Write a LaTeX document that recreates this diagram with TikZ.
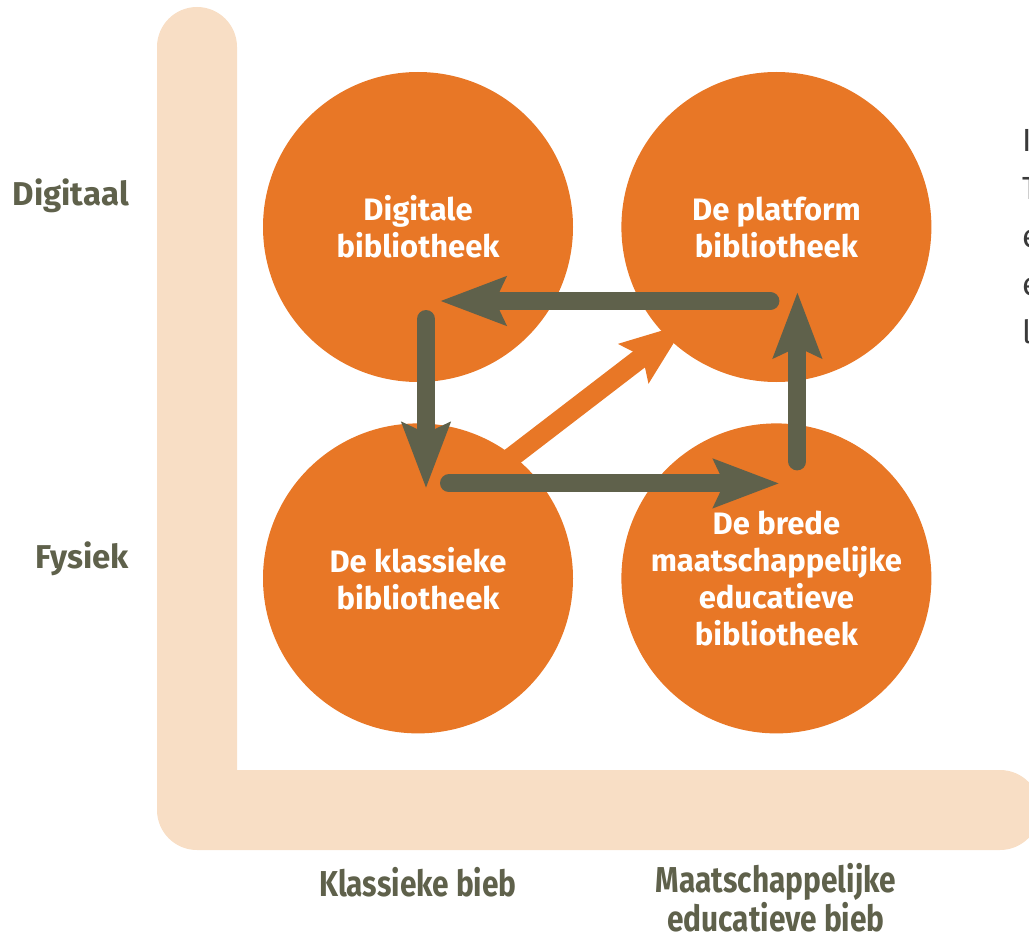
\documentclass[tikz,border=0pt]{standalone}
\usepackage{fontspec}
\setmainfont{Fira Sans}
\newfontfamily\condfont[FakeStretch=0.83]{Fira Sans}
\usepackage{tikz}
\usepackage{xcolor}
\usetikzlibrary{
    arrows.meta,
    positioning,
    calc
}

\definecolor{bieborange}{HTML}{E87726}
\definecolor{biebband}{HTML}{F8DEC5}
\definecolor{biebgrey}{HTML}{5F614B}
\definecolor{biebtext}{HTML}{3A3A3A}

\tikzset{
    lib/.style={circle, fill=bieborange, minimum size=310pt, inner sep=0pt,
        align=center, text=white, font=\fontsize{31}{37}\selectfont\bfseries},
    axislabel/.style={text=biebgrey, inner sep=0pt, font=\fontsize{33}{37}\selectfont\bfseries},
    steplabel/.style={text=biebgrey, inner sep=0pt, align=center,
        font=\condfont\fontsize{36}{37}\selectfont\bfseries},
    looparrow/.style={biebgrey, line width=18pt, line cap=round,
        -{Stealth[length=65pt, width=47pt, inset=10pt]}},
    jumparrow/.style={bieborange, line width=20pt,
        -{Stealth[length=65pt, width=47pt, inset=10pt]}}
}

\begin{document}
\begin{tikzpicture}[x=1pt, y=1pt]
    \useasboundingbox (0, 0) rectangle (1029, -939);
    % L-shaped band
    \fill[biebband] (237, -770) -- (237, -47) arc[start angle=0, end angle=180, radius=40]
        -- (157, -810) arc[start angle=180, end angle=270, radius=40]
        -- (1000, -850) arc[start angle=-90, end angle=90, radius=40] -- cycle;

    % the four libraries
    \node[lib] (dig) at (418, -227) {Digitale\\bibliotheek};
    \node[lib, right=48pt of dig] (plat) {De platform\\bibliotheek};
    \node[lib, below=41pt of dig] (klas) {De klassieke\\bibliotheek};
    \node[lib, below=41pt of plat] (breed) {De brede\\maatschappelijke\\educatieve\\bibliotheek};

    % axis labels
    \node[axislabel, anchor=base east] (digitaal) at (129, -206) {Digitaal};
    \node[axislabel, anchor=base east] (fysiek) at (129, -568) {Fysiek};
    \node[steplabel, anchor=base] (klassiek) at (418, -896) {Klassieke bieb};
    \node[steplabel, anchor=base] (maatsch) at (776, -931) {Maatschappelijke\\educatieve bieb};

    % text cut off at the right edge
    \node[anchor=base west, inner sep=0pt, align=left, text=biebtext,
        font=\fontsize{32}{48}\selectfont] (rest) at (1022, -343) {I\\T\\e\\e\\l};

    % arrows
    \draw[jumparrow] ([shift={(62, 97)}]klas.center) -- ([shift={(-90, -96)}]plat.center);
    \draw[looparrow] ([shift={(-6, -74)}]plat.center) -- ([shift={(22, -74)}]dig.center);
    \draw[looparrow] ([shift={(8, -92)}]dig.center) -- ([shift={(8, 90)}]klas.center);
    \draw[looparrow] ([shift={(31, 95)}]klas.center) -- ([shift={(3, 95)}]breed.center);
    \draw[looparrow] ([shift={(21, 117)}]breed.center) -- ([shift={(21, -65)}]plat.center);
\end{tikzpicture}
\end{document}
